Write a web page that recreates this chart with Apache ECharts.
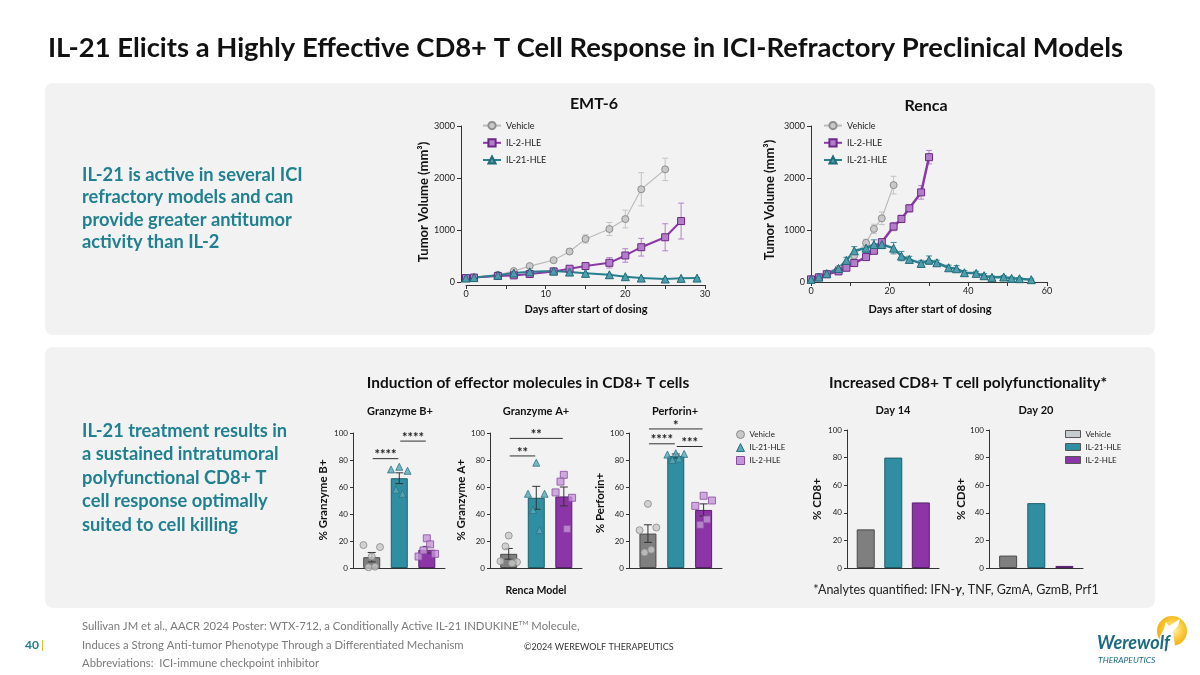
<!DOCTYPE html>
<html><head><meta charset="utf-8">
<script src="https://cdn.jsdelivr.net/npm/echarts@6/dist/echarts.min.js"></script>
<style>html,body{margin:0;padding:0;background:#fff}#c{width:1200px;height:675px}</style>
</head><body><div id="c"></div>
<script>
// ================= DATA =================
const lineGroups = ['Vehicle', 'IL-2-HLE', 'IL-21-HLE'];
const barGroups = ['Vehicle', 'IL-21-HLE', 'IL-2-HLE'];
const volTicks = [0, 1000, 2000, 3000];
const emtDayTicks = [0, 10, 20, 30];
const renDayTicks = [0, 20, 40, 60];
const pctTicks = [0, 20, 40, 60, 80, 100];

// EMT-6 tumor volume (mean, SEM)
const emtVehDays = [0, 1, 4, 6, 8, 11, 13, 15, 18, 20, 22, 25];
const emtVehVol  = [76, 89, 140, 210, 306, 420, 586, 828, 1019, 1210, 1783, 2166];
const emtVehErr  = [8, 8, 12, 18, 25, 30, 50, 80, 125, 170, 320, 215];
const emtIl2Days = [0, 1, 4, 6, 8, 11, 13, 15, 18, 20, 22, 25, 27];
const emtIl2Vol  = [76, 85, 115, 127, 153, 204, 255, 306, 369, 510, 669, 860, 1172];
const emtIl2Err  = [8, 8, 10, 12, 15, 20, 25, 40, 100, 130, 170, 260, 345];
const emtIl21Days = [0, 1, 4, 6, 8, 11, 13, 15, 18, 20, 22, 25, 27, 29];
const emtIl21Vol  = [76, 85, 130, 172, 195, 210, 191, 166, 140, 102, 76, 57, 70, 76];
const emtIl21Err  = [8, 8, 10, 12, 14, 15, 15, 14, 12, 10, 8, 8, 8, 8];

// Renca tumor volume (mean, SEM)
const renVehDays = [0, 2, 4, 7, 9, 11, 14, 16, 18, 21];
const renVehVol  = [51, 96, 160, 255, 351, 510, 753, 1021, 1225, 1863];
const renVehErr  = [10, 15, 20, 30, 40, 60, 70, 90, 120, 170];
const renIl2Days = [0, 2, 4, 7, 9, 11, 14, 16, 18, 21, 23, 25, 28, 30];
const renIl2Vol  = [51, 90, 150, 204, 274, 364, 479, 600, 766, 1066, 1213, 1417, 1723, 2400];
const renIl2Err  = [10, 12, 15, 20, 25, 30, 40, 50, 60, 80, 70, 70, 130, 130];
const renIl21Days = [0, 2, 4, 7, 9, 11, 14, 16, 18, 21, 23, 25, 28, 30, 32, 35, 37, 39, 42, 44, 46, 49, 51, 53, 56];
const renIl21Vol  = [51, 95, 160, 260, 415, 600, 651, 721, 721, 651, 498, 434, 357, 421, 370, 274, 255, 179, 166, 121, 89, 96, 70, 64, 45];
const renIl21Err  = [10, 15, 20, 30, 60, 80, 80, 90, 80, 110, 90, 60, 60, 80, 50, 50, 60, 40, 40, 40, 30, 30, 25, 20, 15];

// Effector molecules, Renca model (order: Vehicle, IL-21-HLE, IL-2-HLE)
const gzmBMean = [8, 66.5, 13.5];
const gzmBSem  = [3.5, 4, 2.5];
const gzmBVeh  = [17, 8.5, 15.5, 0.5, 1];
const gzmBIl21 = [73, 75, 72, 58, 55];
const gzmBIl2  = [8.5, 22, 10.5, 13, 17.5];
const gzmBSig  = [[0, 1, 81], [1, 2, 94]];
const gzmBSigText = ['****', '****'];

const gzmAMean = [10.5, 52, 53];
const gzmASem  = [4, 8.5, 7];
const gzmAVeh  = [5, 24, 4.4, 16, 3.5];
const gzmAIl21 = [55, 78, 55, 43, 28];
const gzmAIl2  = [56, 69, 52, 64, 29];
const gzmASig  = [[0, 1, 83], [0, 2, 96]];
const gzmASigText = ['**', '**'];

const perfMean = [25.5, 83, 43];
const perfSem  = [6.5, 1.5, 4.5];
const perfVeh  = [28, 47.5, 30, 11.5, 13.5];
const perfIl21 = [84, 85, 84.5, 80, 81];
const perfIl2  = [46, 53.5, 50, 32, 36];
const perfSig  = [[0, 1, 92], [1, 2, 90], [0, 2, 103]];
const perfSigText = ['****', '***', '*'];

// Polyfunctionality (% CD8+)
const day14Pct = [28, 80, 47.5];
const day20Pct = [9, 47, 1.5];

// ================= STYLE =================
const F = 'Lato, "Noto Sans", sans-serif';
const TXT_TEAL = '#20808f';
const AX = '#333';
const JIT = [-0.3, 0, 0.3, -0.12, 0.12];
const lineSt = {
  'Vehicle':   {symbol: 'circle',   size: 7, line: '#bcbcbc', lw: 1.2, fill: '#c9c9c9', border: '#8e8e8e', err: '#c4c4c4'},
  'IL-2-HLE':  {symbol: 'rect',     size: 7, line: '#8a39a5', lw: 2,   fill: '#b27dc9', border: '#6c2886', err: '#b582ca'},
  'IL-21-HLE': {symbol: 'triangle', size: 8, line: '#2a7f8f', lw: 2,   fill: '#4d9dac', border: '#226a78', err: '#3f8e9d'}
};
const barFill   = ['#7f7f7f', '#2f8ea2', '#8b35a7'];
const barBorder = ['#4a4a4a', '#1e5f6d', '#5a1f6f'];
const ptSymbol  = ['circle', 'triangle', 'rect'];
const ptFill    = ['#c8c8c8', '#5aa7b7', '#c596d7'];
const ptBorder  = ['#8a8a8a', '#2b7484', '#8a4ca2'];
const legRect   = ['#c6cbcd', '#2f8ea2', '#8b35a7'];

// ================= OPTION BUILDERS =================
const grids = [
  {left: 466, top: 126, width: 239, height: 156},
  {left: 811, top: 126, width: 236, height: 156},
  {left: 353, top: 433, width: 92, height: 135},
  {left: 490, top: 433, width: 92, height: 135},
  {left: 629, top: 433, width: 93, height: 135},
  {left: 847, top: 430, width: 92, height: 138},
  {left: 989, top: 430, width: 94, height: 138}
].map(g => Object.assign({containLabel: false, outerBoundsMode: 'none'}, g));

const xAxes = [], yAxes = [], series = [];

function lineAxes(gi, dayTicks, step, off) {
  const lblStep = dayTicks[1] - dayTicks[0];
  xAxes.push({type: 'value', gridIndex: gi, min: dayTicks[0], max: dayTicks[dayTicks.length - 1], interval: step, offset: off[1],
    axisLine: {show: true, onZero: false, lineStyle: {color: AX, width: 1}},
    axisTick: {show: true, length: 4, lineStyle: {color: AX}},
    axisLabel: {fontSize: 9, color: '#222', margin: 5, fontFamily: F, formatter: v => (v % lblStep === 0 ? String(v) : '')},
    splitLine: {show: false}});
  yAxes.push({type: 'value', gridIndex: gi, min: volTicks[0], max: volTicks[volTicks.length - 1], interval: volTicks[1] - volTicks[0], offset: off[0],
    axisLine: {show: true, onZero: false, lineStyle: {color: AX, width: 1}},
    axisTick: {show: true, length: 4, lineStyle: {color: AX}},
    axisLabel: {fontSize: 9, color: '#222', margin: 6, fontFamily: F, formatter: v => String(v)},
    splitLine: {show: false}});
}

function errBar(gi, xs, lo, hi, color, cap, z) {
  return {type: 'custom', xAxisIndex: gi, yAxisIndex: gi, silent: true, z: z, clip: false,
    data: xs.map((x, i) => [x, lo[i], hi[i]]),
    renderItem: (p, api) => {
      const a = api.coord([api.value(0), api.value(1)]);
      const b = api.coord([api.value(0), api.value(2)]);
      const st = {stroke: color, lineWidth: 1};
      return {type: 'group', children: [
        {type: 'line', shape: {x1: a[0], y1: a[1], x2: b[0], y2: b[1]}, style: st},
        {type: 'line', shape: {x1: a[0] - cap, y1: a[1], x2: a[0] + cap, y2: a[1]}, style: st},
        {type: 'line', shape: {x1: b[0] - cap, y1: b[1], x2: b[0] + cap, y2: b[1]}, style: st}
      ]};
    }};
}

function lineBlock(gi, name, days, vols, errs, lwMul) {
  const s = lineSt[name];
  series.push(errBar(gi, days, vols.map((v, i) => Math.max(0, v - errs[i])), vols.map((v, i) => v + errs[i]), s.err, 3, 1));
  series.push({type: 'line', name: name, xAxisIndex: gi, yAxisIndex: gi, z: 3,
    data: days.map((d, i) => [d, vols[i]]),
    symbol: s.symbol, symbolSize: s.size, showAllSymbol: true, silent: true,
    lineStyle: {color: s.line, width: s.lw * lwMul},
    itemStyle: {color: s.fill, borderColor: s.border, borderWidth: 1}});
}

function barAxes(gi) {
  xAxes.push({type: 'value', gridIndex: gi, min: -0.68, max: 2.66,
    axisLine: {show: true, onZero: false, lineStyle: {color: AX, width: 1}},
    axisTick: {show: false}, axisLabel: {show: false}, splitLine: {show: false}});
  yAxes.push({type: 'value', gridIndex: gi, min: pctTicks[0], max: pctTicks[pctTicks.length - 1], interval: pctTicks[1] - pctTicks[0],
    axisLine: {show: true, onZero: false, lineStyle: {color: AX, width: 1}},
    axisTick: {show: true, length: 3, lineStyle: {color: AX}},
    axisLabel: {fontSize: 8, color: '#222', margin: 5, fontFamily: F},
    splitLine: {show: false}});
}

function barSeries(gi, means, width) {
  series.push({type: 'bar', xAxisIndex: gi, yAxisIndex: gi, barWidth: width, z: 2, silent: true,
    data: means.map((m, i) => ({value: [i, m], itemStyle: {color: barFill[i], borderColor: barBorder[i], borderWidth: 1}}))});
}

function effectorBlock(gi, means, sems, pts, sig, sigText) {
  barAxes(gi);
  barSeries(gi, means, 17);
  series.push(errBar(gi, means.map((m, i) => i), means.map((m, i) => m - sems[i]), means.map((m, i) => m + sems[i]), '#333', 4, 3));
  pts.forEach((arr, g) => {
    series.push({type: 'scatter', xAxisIndex: gi, yAxisIndex: gi, z: 4, silent: true,
      symbol: ptSymbol[g], symbolSize: 7,
      itemStyle: {color: ptFill[g], borderColor: ptBorder[g], borderWidth: 1},
      data: arr.map((v, j) => [g + JIT[j], v])});
  });
  series.push({type: 'custom', xAxisIndex: gi, yAxisIndex: gi, z: 5, silent: true, clip: false,
    data: sig,
    renderItem: (p, api) => {
      const a = api.coord([api.value(0), api.value(2)]);
      const b = api.coord([api.value(1), api.value(2)]);
      return {type: 'group', children: [
        {type: 'line', shape: {x1: a[0] + 1, y1: a[1], x2: b[0] - 1, y2: b[1]}, style: {stroke: '#333', lineWidth: 1}},
        {type: 'text', style: {text: sigText[p.dataIndex], x: (a[0] + b[0]) / 2, y: a[1] + 3, textAlign: 'center', textVerticalAlign: 'bottom',
          font: 'bold 13px ' + F, fill: '#222'}}
      ]};
    }});
}

// ---- build ----
lineAxes(0, emtDayTicks, 5, [5, 3]);
lineBlock(0, 'Vehicle', emtVehDays, emtVehVol, emtVehErr, 1);
lineBlock(0, 'IL-2-HLE', emtIl2Days, emtIl2Vol, emtIl2Err, 1);
lineBlock(0, 'IL-21-HLE', emtIl21Days, emtIl21Vol, emtIl21Err, 1);

lineAxes(1, renDayTicks, 10, [0, 0]);
lineBlock(1, 'Vehicle', renVehDays, renVehVol, renVehErr, 1);
lineBlock(1, 'IL-2-HLE', renIl2Days, renIl2Vol, renIl2Err, 1.25);
lineBlock(1, 'IL-21-HLE', renIl21Days, renIl21Vol, renIl21Err, 1.25);

effectorBlock(2, gzmBMean, gzmBSem, [gzmBVeh, gzmBIl21, gzmBIl2], gzmBSig, gzmBSigText);
effectorBlock(3, gzmAMean, gzmASem, [gzmAVeh, gzmAIl21, gzmAIl2], gzmASig, gzmASigText);
effectorBlock(4, perfMean, perfSem, [perfVeh, perfIl21, perfIl2], perfSig, perfSigText);

barAxes(5); barSeries(5, day14Pct, 18);
barAxes(6); barSeries(6, day20Pct, 18);

// ---- legends ----
const legText = {fontSize: 9, color: '#222', fontFamily: F};
const legends = [
  {data: lineGroups, left: 477, top: 116, orient: 'vertical', itemWidth: 18, itemHeight: 9, itemGap: 8, selectedMode: false, textStyle: legText},
  {data: lineGroups, left: 818, top: 116, orient: 'vertical', itemWidth: 18, itemHeight: 9, itemGap: 8, selectedMode: false, textStyle: legText},
  {data: barGroups.map((n, i) => ({name: n, icon: ptSymbol[i], itemStyle: {color: ptFill[i], borderColor: ptBorder[i], borderWidth: 1}})),
    left: 731, top: 425, orient: 'vertical', itemWidth: 8, itemHeight: 8, itemGap: 4, selectedMode: false, textStyle: {fontSize: 8, color: '#222', fontFamily: F}},
  {data: barGroups.map((n, i) => ({name: n, icon: 'rect', itemStyle: {color: legRect[i], borderColor: '#555', borderWidth: 1}})),
    left: 1060, top: 425, orient: 'vertical', itemWidth: 15, itemHeight: 7, itemGap: 5, selectedMode: false, textStyle: {fontSize: 8, color: '#222', fontFamily: F}}
];

// ---- graphic texts ----
function T(x, y, text, size, weight, color, align, extra) {
  const el = {type: 'text', x: x, y: y, z: 50, silent: true,
    style: {text: text, fill: color, font: weight + ' ' + size + 'px ' + F, textAlign: align || 'left', textVerticalAlign: 'middle'}};
  return Object.assign(el, extra || {});
}
const R90 = {rotation: Math.PI / 2};
const g = [];
g.push({type: 'rect', z: -10, silent: true, shape: {x: 45, y: 83, width: 1110, height: 252, r: 8}, style: {fill: '#f2f2f2'}});
g.push({type: 'rect', z: -10, silent: true, shape: {x: 45, y: 347, width: 1110, height: 261, r: 8}, style: {fill: '#f2f2f2'}});
g.push(T(48, 48, 'IL-21 Elicits a Highly Effective CD8+ T Cell Response in ICI-Refractory Preclinical Models', 27.4, 'bold', '#111'));

['IL-21 is active in several ICI', 'refractory models and can', 'provide greater antitumor', 'activity than IL-2']
  .forEach((s, i) => g.push(T(82, 175 + i * 22.5, s, 18.3, 'bold', TXT_TEAL)));
['IL-21 treatment results in', 'a sustained intratumoral', 'polyfunctional CD8+ T', 'cell response optimally', 'suited to cell killing']
  .forEach((s, i) => g.push(T(82, 431 + i * 23.5, s, 18.3, 'bold', TXT_TEAL)));

g.push(T(594, 104, 'EMT-6', 16, 'bold', '#111', 'center'));
g.push(T(926, 106, 'Renca', 16, 'bold', '#111', 'center'));
g.push(T(424, 202, 'Tumor Volume (mm³)', 13, 'bold', '#111', 'center', R90));
g.push(T(770, 200, 'Tumor Volume (mm³)', 13, 'bold', '#111', 'center', R90));
g.push(T(586, 309, 'Days after start of dosing', 11, 'bold', '#111', 'center'));
g.push(T(930, 309, 'Days after start of dosing', 11, 'bold', '#111', 'center'));

g.push(T(528, 383, 'Induction of effector molecules in CD8+ T cells', 15.5, 'bold', '#111', 'center'));
g.push(T(968, 383, 'Increased CD8+ T cell polyfunctionality*', 15.5, 'bold', '#111', 'center'));
g.push(T(400, 411, 'Granzyme B+', 11, 'bold', '#111', 'center'));
g.push(T(536, 411, 'Granzyme A+', 11, 'bold', '#111', 'center'));
g.push(T(675, 411, 'Perforin+', 11, 'bold', '#111', 'center'));
g.push(T(893, 410, 'Day 14', 11, 'bold', '#111', 'center'));
g.push(T(1036, 410, 'Day 20', 11, 'bold', '#111', 'center'));
g.push(T(323, 500, '% Granzyme B+', 11.5, 'bold', '#111', 'center', R90));
g.push(T(461, 500, '% Granzyme A+', 11.5, 'bold', '#111', 'center', R90));
g.push(T(600, 503, '% Perforin+', 11.5, 'bold', '#111', 'center', R90));
g.push(T(817, 499, '% CD8+', 11.5, 'bold', '#111', 'center', R90));
g.push(T(961, 499, '% CD8+', 11.5, 'bold', '#111', 'center', R90));
g.push(T(536, 591, 'Renca Model', 10.5, 'bold', '#111', 'center'));
g.push({type: 'text', x: 956, y: 590, z: 50, silent: true,
  style: {text: '*Analytes quantified: IFN-{g|γ}, TNF, GzmA, GzmB, Prf1', fill: '#222', font: '12.5px ' + F,
    textAlign: 'center', textVerticalAlign: 'middle',
    rich: {g: {fontSize: 12.5, fontWeight: 'bold', fontStyle: 'italic', fontFamily: F, fill: '#222'}}}});

// footer
g.push({type: 'text', x: 82, y: 626, z: 50, silent: true,
  style: {text: 'Sullivan JM et al., AACR 2024 Poster: WTX-712, a Conditionally Active IL-21 INDUKINE{s|TM} Molecule,',
    fill: '#7a7a7a', font: '11.3px ' + F, textAlign: 'left', textVerticalAlign: 'middle',
    rich: {s: {fontSize: 6.5, fontFamily: F, fill: '#7a7a7a', verticalAlign: 'top', padding: [0, 0, 6, 0]}}}});
g.push(T(82, 645, 'Induces a Strong Anti-tumor Phenotype Through a Differentiated Mechanism', 11.3, 'normal', '#7a7a7a'));
g.push(T(82, 663, 'Abbreviations:  ICI-immune checkpoint inhibitor', 11.3, 'normal', '#7a7a7a'));
g.push(T(524, 647, '©2024 WEREWOLF THERAPEUTICS', 9, 'normal', '#333'));
g.push(T(25, 645, '40', 12, 'bold', '#1f7a8c'));
g.push(T(41, 645, '|', 12, 'normal', '#e8b000'));

// logo
g.push({type: 'circle', z: 40, silent: true, shape: {cx: 1172, cy: 631, r: 15},
  style: {fill: {type: 'radial', x: 0.55, y: 0.45, r: 0.6, colorStops: [{offset: 0, color: '#fff3b0'}, {offset: 0.6, color: '#f9c531'}, {offset: 1, color: '#f3a900'}]}}});
g.push({type: 'polygon', z: 41, silent: true,
  shape: {points: [[1159, 646], [1160, 636], [1164, 629], [1166, 622], [1169, 626], [1180, 619], [1178, 626], [1173, 631], [1175, 646]]},
  style: {fill: '#ffffff'}});
g.push(T(1097, 643, 'Werewolf', 18, 'bold italic', '#1a6b82'));
g.push({type: 'text', x: 1098, y: 660, z: 50, silent: true,
  style: {text: 'THERAPEUTICS', fill: '#1a6b82', font: 'italic 8.5px ' + F, textAlign: 'left', textVerticalAlign: 'middle'}});

const option = {
  animation: false,
  backgroundColor: '#ffffff',
  textStyle: {fontFamily: F},
  grid: grids, xAxis: xAxes, yAxis: yAxes, series: series, legend: legends,
  graphic: {elements: g}
};
const chart = echarts.init(document.getElementById('c'), null, {renderer: 'canvas'});
chart.setOption(option);
</script></body></html>
